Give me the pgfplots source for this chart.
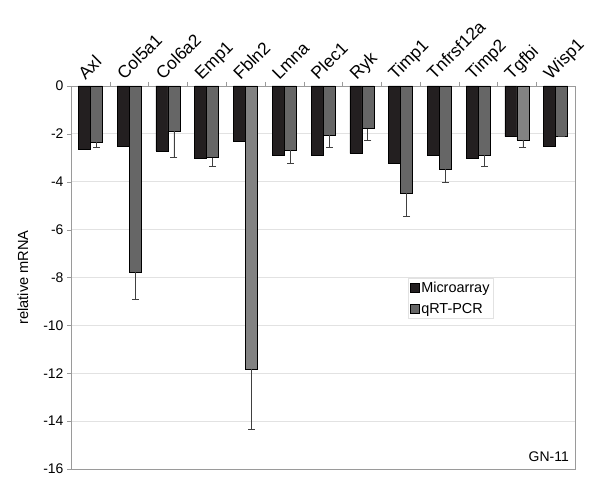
\documentclass[border=0pt]{standalone}
\usepackage{pgfplots}
\pgfplotsset{compat=1.18}
\usetikzlibrary{calc}
\usepackage{fontspec}
\setmainfont{Liberation Sans}
\definecolor{micro}{HTML}{231F20}
\definecolor{qrt}{HTML}{666666}
\definecolor{qrtl}{HTML}{828282}
\definecolor{gridc}{HTML}{E2E2E2}
\definecolor{axc}{HTML}{9A9A9A}
\begin{document}
\begin{tikzpicture}
\begin{axis}[
  name=ax,
  clip=false,
  scale only axis,
  width=504bp, height=383bp,
  xmin=-0.5, xmax=12.5,
  ymin=-16, ymax=0,
  ytick={-16,-14,...,0},
  /pgf/number format/assume math mode=true,
  xtick={0.5,1.5,...,11.5},
  xticklabels={},
  y tick label style={font=\fontsize{14}{16}\selectfont},
  x tick style={draw=axc},
  xtick pos=right,
  ytick pos=left,
  tick align=outside,
  y tick style={draw=axc},
  major tick length=4bp,
  axis line style={draw=axc, line width=0.8bp},
  ymajorgrids,
  grid style={draw=gridc, line width=0.8bp},
  ylabel={relative mRNA},
  ylabel style={font=\fontsize{14.7}{16}\selectfont, at={(axis description cs:-0.078,0.5)}, anchor=south},
  ybar,
  bar width=12bp,
  legend style={at={(rel axis cs:0.669,0.499)}, anchor=north west, draw=gridc, font=\fontsize{14.5}{16}\selectfont, inner sep=2bp, row sep=5bp, legend cell align=left},
  legend image code/.code={\draw[#1, draw=black, line width=0.4bp] (0bp,-4bp) rectangle (8.5bp,4.5bp);},
  error bars/y dir=minus,
  error bars/y explicit,
  error bars/error bar style={draw=black!75, line width=0.6bp},
  error bars/error mark options={rotate=90, mark size=3.5bp, draw=black!75, line width=0.6bp},
]
\addplot[fill=micro, draw=black, line width=0.5bp, bar shift=-6bp] coordinates {
(0,-2.63) (1,-2.50) (2,-2.71) (3,-3.01) (4,-2.32) (5,-2.90) (6,-2.90)
(7,-2.82) (8,-3.21) (9,-2.90) (10,-3.01) (11,-2.11) (12,-2.50)};
\addlegendentry{Microarray}
\addplot[fill=qrt, draw=black, line width=0.5bp, bar shift=6bp] coordinates {
(0,-2.35) -= (0,0.23)
(1,-7.76) -= (0,1.16)
(2,-1.90) -= (0,1.07)
(3,-2.99) -= (0,0.385)
(5,-2.67) -= (0,0.54)
(6,-2.06) -= (0,0.52)
(7,-1.78) -= (0,0.48)
(8,-4.46) -= (0,0.98)
(9,-3.47) -= (0,0.57)
(10,-2.90) -= (0,0.475)
(12,-2.10) -= (0,0)};
\addlegendentry{qRT-PCR}
\addplot[fill=qrtl, draw=black, line width=0.5bp, bar shift=6bp, forget plot] coordinates {
(4,-11.82) -= (0,2.51)
(11,-2.25) -= (0,0.33)};
\foreach \i/\t in {0/Axl,1/Col5a1,2/Col6a2,3/Emp1,4/Fbln2,5/Lmna,6/Plec1,7/Ryk,8/Timp1,9/Tnfrsf12a,10/Timp2,11/Tgfbi,12/Wisp1}{
  \edef\temp{\noexpand\node[xshift=-5bp, yshift=5.5bp, rotate=45, anchor=base west, inner sep=0pt, font=\noexpand\fontsize{17.5}{19}\noexpand\selectfont] at (axis cs:\i,0) {\t};}
  \temp
}
\node[anchor=south east, font=\fontsize{14}{16}\selectfont, inner sep=0pt] at (rel axis cs:0.988,0.018) {GN-11};
\end{axis}
\path ($(ax.south west)+(-71bp,-27bp)$) rectangle ($(ax.north east)+(25bp,86bp)$);
\end{tikzpicture}
\end{document}
